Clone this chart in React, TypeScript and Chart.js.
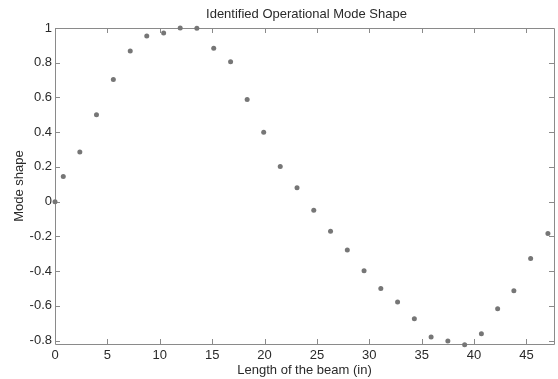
import React, { useEffect, useRef } from "react";
import { Chart, registerables } from "chart.js";

Chart.register(...registerables);

const beamPositions = [0, 0.79, 2.37, 3.96, 5.57, 7.18, 8.76, 10.37, 11.95, 13.54, 15.15, 16.76, 18.34, 19.92, 21.5, 23.1, 24.7, 26.3, 27.9, 29.5, 31.1, 32.7, 34.3, 35.9, 37.5, 39.1, 40.7, 42.25, 43.8, 45.4, 47.05];
const modeShape = [0, 0.144, 0.286, 0.5, 0.703, 0.868, 0.954, 0.971, 1.0, 0.998, 0.884, 0.805, 0.588, 0.4, 0.203, 0.08, -0.05, -0.171, -0.279, -0.398, -0.5, -0.578, -0.674, -0.78, -0.803, -0.824, -0.761, -0.617, -0.513, -0.327, -0.184];
const xTicks = [0, 5, 10, 15, 20, 25, 30, 35, 40, 45];
const xTickLabels = ["0", "5", "10", "15", "20", "25", "30", "35", "40", "45"];
const yTicks = [-0.8, -0.6, -0.4, -0.2, 0, 0.2, 0.4, 0.6, 0.8, 1];
const yTickLabels = ["-0.8", "-0.6", "-0.4", "-0.2", "0", "0.2", "0.4", "0.6", "0.8", "1"];
const chartTitle = "Identified Operational Mode Shape";

const AXIS_COLOR = "#8a8a8a";
const TEXT_COLOR = "#2a2a2a";
const POINT_COLOR = "#767676";
const FONT = "'Liberation Sans', Arial, sans-serif";

const boxPlugin = {
  id: "matlabBox",
  beforeDatasetsDraw(chart: any) {
    const { ctx, chartArea } = chart;
    const { left, right, top, bottom } = chartArea;
    const xs = chart.scales.x;
    const ys = chart.scales.y;
    const tl = 5;
    ctx.save();
    ctx.strokeStyle = AXIS_COLOR;
    ctx.lineWidth = 1;
    ctx.beginPath();
    ctx.rect(Math.round(left) + 0.5, Math.round(top) + 0.5, Math.round(right - left), Math.round(bottom - top));
    ctx.stroke();
    ctx.beginPath();
    xTicks.forEach((v) => {
      const px = Math.round(xs.getPixelForValue(v)) + 0.5;
      ctx.moveTo(px, bottom);
      ctx.lineTo(px, bottom - tl);
      ctx.moveTo(px, top);
      ctx.lineTo(px, top + tl);
    });
    yTicks.forEach((v) => {
      const py = Math.round(ys.getPixelForValue(v)) + 0.5;
      ctx.moveTo(left, py);
      ctx.lineTo(left + tl, py);
      ctx.moveTo(right, py);
      ctx.lineTo(right - tl, py);
    });
    ctx.stroke();
    // title centred over the plot area
    ctx.fillStyle = TEXT_COLOR;
    ctx.font = `13px ${FONT}`;
    ctx.textAlign = "center";
    ctx.textBaseline = "middle";
    ctx.fillText(chartTitle, (left + right) / 2 + 2, 14);
    ctx.restore();
  },
};

export default function App() {
  const ref = useRef<HTMLCanvasElement | null>(null);
  useEffect(() => {
    document.body.style.margin = "0";
    const canvas = ref.current;
    if (!canvas) return;
    const chart = new Chart(canvas, {
      type: "scatter",
      data: {
        datasets: [
          {
            data: beamPositions.map((x, i) => ({ x, y: modeShape[i] })),
            backgroundColor: POINT_COLOR,
            borderWidth: 0,
            pointRadius: 2.5,
            clip: false as any,
          },
        ],
      },
      options: {
        animation: false,
        responsive: false,
        devicePixelRatio: 1,
        layout: { padding: { left: 0, right: 1, top: 28, bottom: 0 } },
        plugins: {
          legend: { display: false },
          tooltip: { enabled: false },
          title: { display: false },
        },
        scales: {
          x: {
            type: "linear",
            min: 0,
            max: 47.63,
            grid: { display: false, drawTicks: false },
            border: { display: false },
            afterBuildTicks: (s: any) => {
              s.ticks = xTicks.map((v) => ({ value: v }));
            },
            afterFit: (s: any) => {
              s.height = 35;
            },
            ticks: {
              color: TEXT_COLOR,
              font: { family: FONT, size: 13 },
              padding: 4,
              maxRotation: 0,
              callback: (v: any) => xTickLabels[xTicks.indexOf(Number(v))] ?? "",
            },
            title: {
              display: true,
              text: "Length of the beam (in)",
              color: TEXT_COLOR,
              font: { family: FONT, size: 13 },
              padding: { top: 0, bottom: 1.2 },
            },
          },
          y: {
            type: "linear",
            min: -0.82,
            max: 1,
            grid: { display: false, drawTicks: false },
            border: { display: false },
            afterBuildTicks: (s: any) => {
              s.ticks = yTicks.map((v) => ({ value: v }));
            },
            afterFit: (s: any) => {
              s.width = 55;
            },
            ticks: {
              color: TEXT_COLOR,
              font: { family: FONT, size: 13 },
              padding: 3,
              callback: (v: any) => {
                const i = yTicks.findIndex((t) => Math.abs(t - Number(v)) < 1e-6);
                return i >= 0 ? yTickLabels[i] : "";
              },
            },
            title: {
              display: true,
              text: "Mode shape",
              color: TEXT_COLOR,
              font: { family: FONT, size: 13 },
              padding: { top: 11.2, bottom: 0 },
            },
          },
        },
      },
      plugins: [boxPlugin],
    });
    return () => chart.destroy();
  }, []);
  return (
    <div style={{ width: 558, height: 379 }}>
      <canvas ref={ref} width={558} height={379} style={{ display: "block" }} />
    </div>
  );
}
